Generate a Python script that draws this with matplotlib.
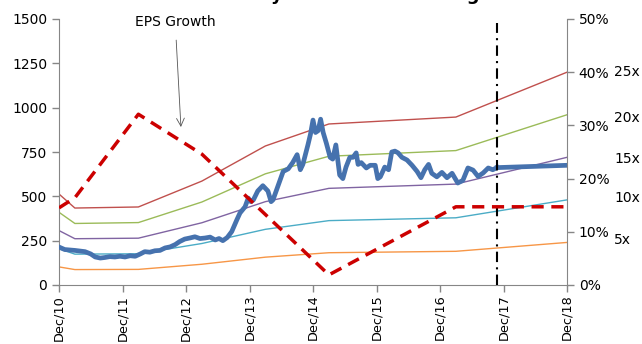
import matplotlib.pyplot as plt

# x positions are years after Dec 2010
year_labels = ['Dec/10', 'Dec/11', 'Dec/12', 'Dec/13', 'Dec/14',
               'Dec/15', 'Dec/16', 'Dec/17', 'Dec/18']

# PE bands (price implied by multiple x EPS)
band_t = [0.0, 0.25, 1.25, 2.25, 3.25, 4.25, 6.25, 8.0]
band_25x = [513, 434, 440, 586, 784, 908, 947, 1200]
band_20x = [410, 347, 352, 468, 627, 726, 758, 960]
band_15x = [307, 261, 264, 351, 470, 545, 569, 720]
band_10x = [205, 174, 176, 234, 314, 363, 379, 480]
band_5x = [102, 87, 88, 117, 157, 182, 190, 240]
band_names = ['25x', '20x', '15x', '10x', '5x']
band_label_y = [40.0, 31.4, 23.7, 16.4, 8.5]

# EPS growth (right axis, %)
eps_t = [0.0, 0.25, 1.25, 2.25, 4.25, 6.25, 8.0]
eps_growth = [14.5, 16.4, 32.1, 24.6, 1.9, 14.7, 14.7]

# share price
price_t = [0.00, 0.09, 0.25, 0.41, 0.50, 0.57, 0.65, 0.72, 0.80, 0.88,
           0.96, 1.04, 1.12, 1.20, 1.28, 1.35, 1.43, 1.51, 1.59, 1.67,
           1.75, 1.83, 1.90, 1.98, 2.06, 2.14, 2.22, 2.30, 2.38, 2.46,
           2.52, 2.58, 2.65, 2.72, 2.80, 2.85, 2.93, 2.98, 3.02, 3.06,
           3.13, 3.21, 3.29, 3.34, 3.37, 3.45, 3.53, 3.61, 3.68, 3.75,
           3.80, 3.84, 3.92, 3.96, 4.00, 4.04, 4.08, 4.12, 4.16, 4.21,
           4.27, 4.31, 4.36, 4.42, 4.47, 4.52, 4.58, 4.63, 4.68, 4.71,
           4.76, 4.84, 4.90, 4.98, 5.02, 5.06, 5.13, 5.19, 5.24, 5.29,
           5.34, 5.40, 5.48, 5.56, 5.64, 5.70, 5.76, 5.82, 5.87, 5.95,
           6.03, 6.11, 6.19, 6.28, 6.36, 6.44, 6.52, 6.60, 6.68, 6.76,
           6.83, 6.90]
price = [214, 200, 195, 188, 175, 158, 152, 155, 160, 158,
         162, 158, 165, 162, 175, 188, 185, 193, 195, 209,
         215, 228, 245, 259, 265, 272, 262, 265, 270, 254,
         262, 250, 268, 301, 367, 406, 441, 490, 470, 479,
         530, 560, 530, 470, 480, 560, 640, 655, 690, 735,
         650, 680, 790, 850, 930, 860, 870, 935, 860, 800,
         720, 710, 790, 620, 600, 665, 720, 720, 745, 680,
         690, 660, 675, 675, 600, 610, 665, 650, 750, 755,
         745, 720, 705, 675, 640, 605, 650, 680, 630, 610,
         635, 605, 630, 575, 590, 660, 648, 612, 632, 660,
         650, 662]
proj_t = [6.90, 8.00]
proj_price = [662, 675]

forecast_t = 6.9

fig = plt.figure(figsize=(6.42, 3.44), dpi=100)
ax = fig.add_axes([59 / 642, 59 / 344, 508 / 642, 266 / 344])
ax2 = ax.twinx()

band_colors = ['#C0504D', '#9BBB59', '#8064A2', '#4BACC6', '#F79646']
bands = [band_25x, band_20x, band_15x, band_10x, band_5x]
for vals, c in zip(bands, band_colors):
    ax.plot(band_t, vals, color=c, linewidth=1.0, zorder=2)

ax.plot(price_t, price, color='#4672AE', linewidth=3.4, zorder=3,
        solid_joinstyle='round')
ax.plot(proj_t, proj_price, color='#4672AE', linewidth=3.4, zorder=3)

ax.plot([forecast_t, forecast_t], [0, 1478], color='black', linewidth=1.5,
        linestyle=(0, (5, 2.5, 1, 2.5)), zorder=4)

ax.annotate('EPS Growth', xy=(1.92, 891), xytext=(1.83, 1483),
            ha='center', va='center', fontsize=10,
            arrowprops=dict(arrowstyle='->', color='#555555', lw=0.6,
                            shrinkA=6, shrinkB=0, mutation_scale=14))

ax2.plot(eps_t, eps_growth, color='#CC0000', linewidth=2.5,
         linestyle=(0, (3.5, 2.2)))

ax.set_xlim(0, 8)
ax.set_ylim(0, 1500)
ax.set_yticks([0, 250, 500, 750, 1000, 1250, 1500])
ax.set_xticks(range(9))
ax.set_xticklabels(year_labels, rotation=90)
ax2.set_ylim(0, 50)
ax2.set_yticks([0, 10, 20, 30, 40, 50])
ax2.set_yticklabels([f'{v}%' for v in [0, 10, 20, 30, 40, 50]])

for a in (ax, ax2):
    a.spines['top'].set_visible(False)
    for s in ('left', 'right', 'bottom'):
        a.spines[s].set_color('#868686')
    a.tick_params(colors='#868686', labelcolor='black', labelsize=10,
                  length=5, width=1)
ax.tick_params(axis='x', labelsize=9.3, pad=2)
ax.spines['right'].set_visible(False)
ax2.spines['left'].set_visible(False)
ax2.spines['bottom'].set_visible(False)

for name, yv in zip(band_names, band_label_y):
    ax2.text(1.093, yv, name, transform=ax2.get_yaxis_transform(),
             ha='left', va='center', fontsize=10)

fig.text(0.53, 1.0, 'Valuation history versus the Earnings Growth',
         ha='center', va='baseline', fontsize=13, fontweight='bold')

fig.savefig('out.png', dpi=100)
